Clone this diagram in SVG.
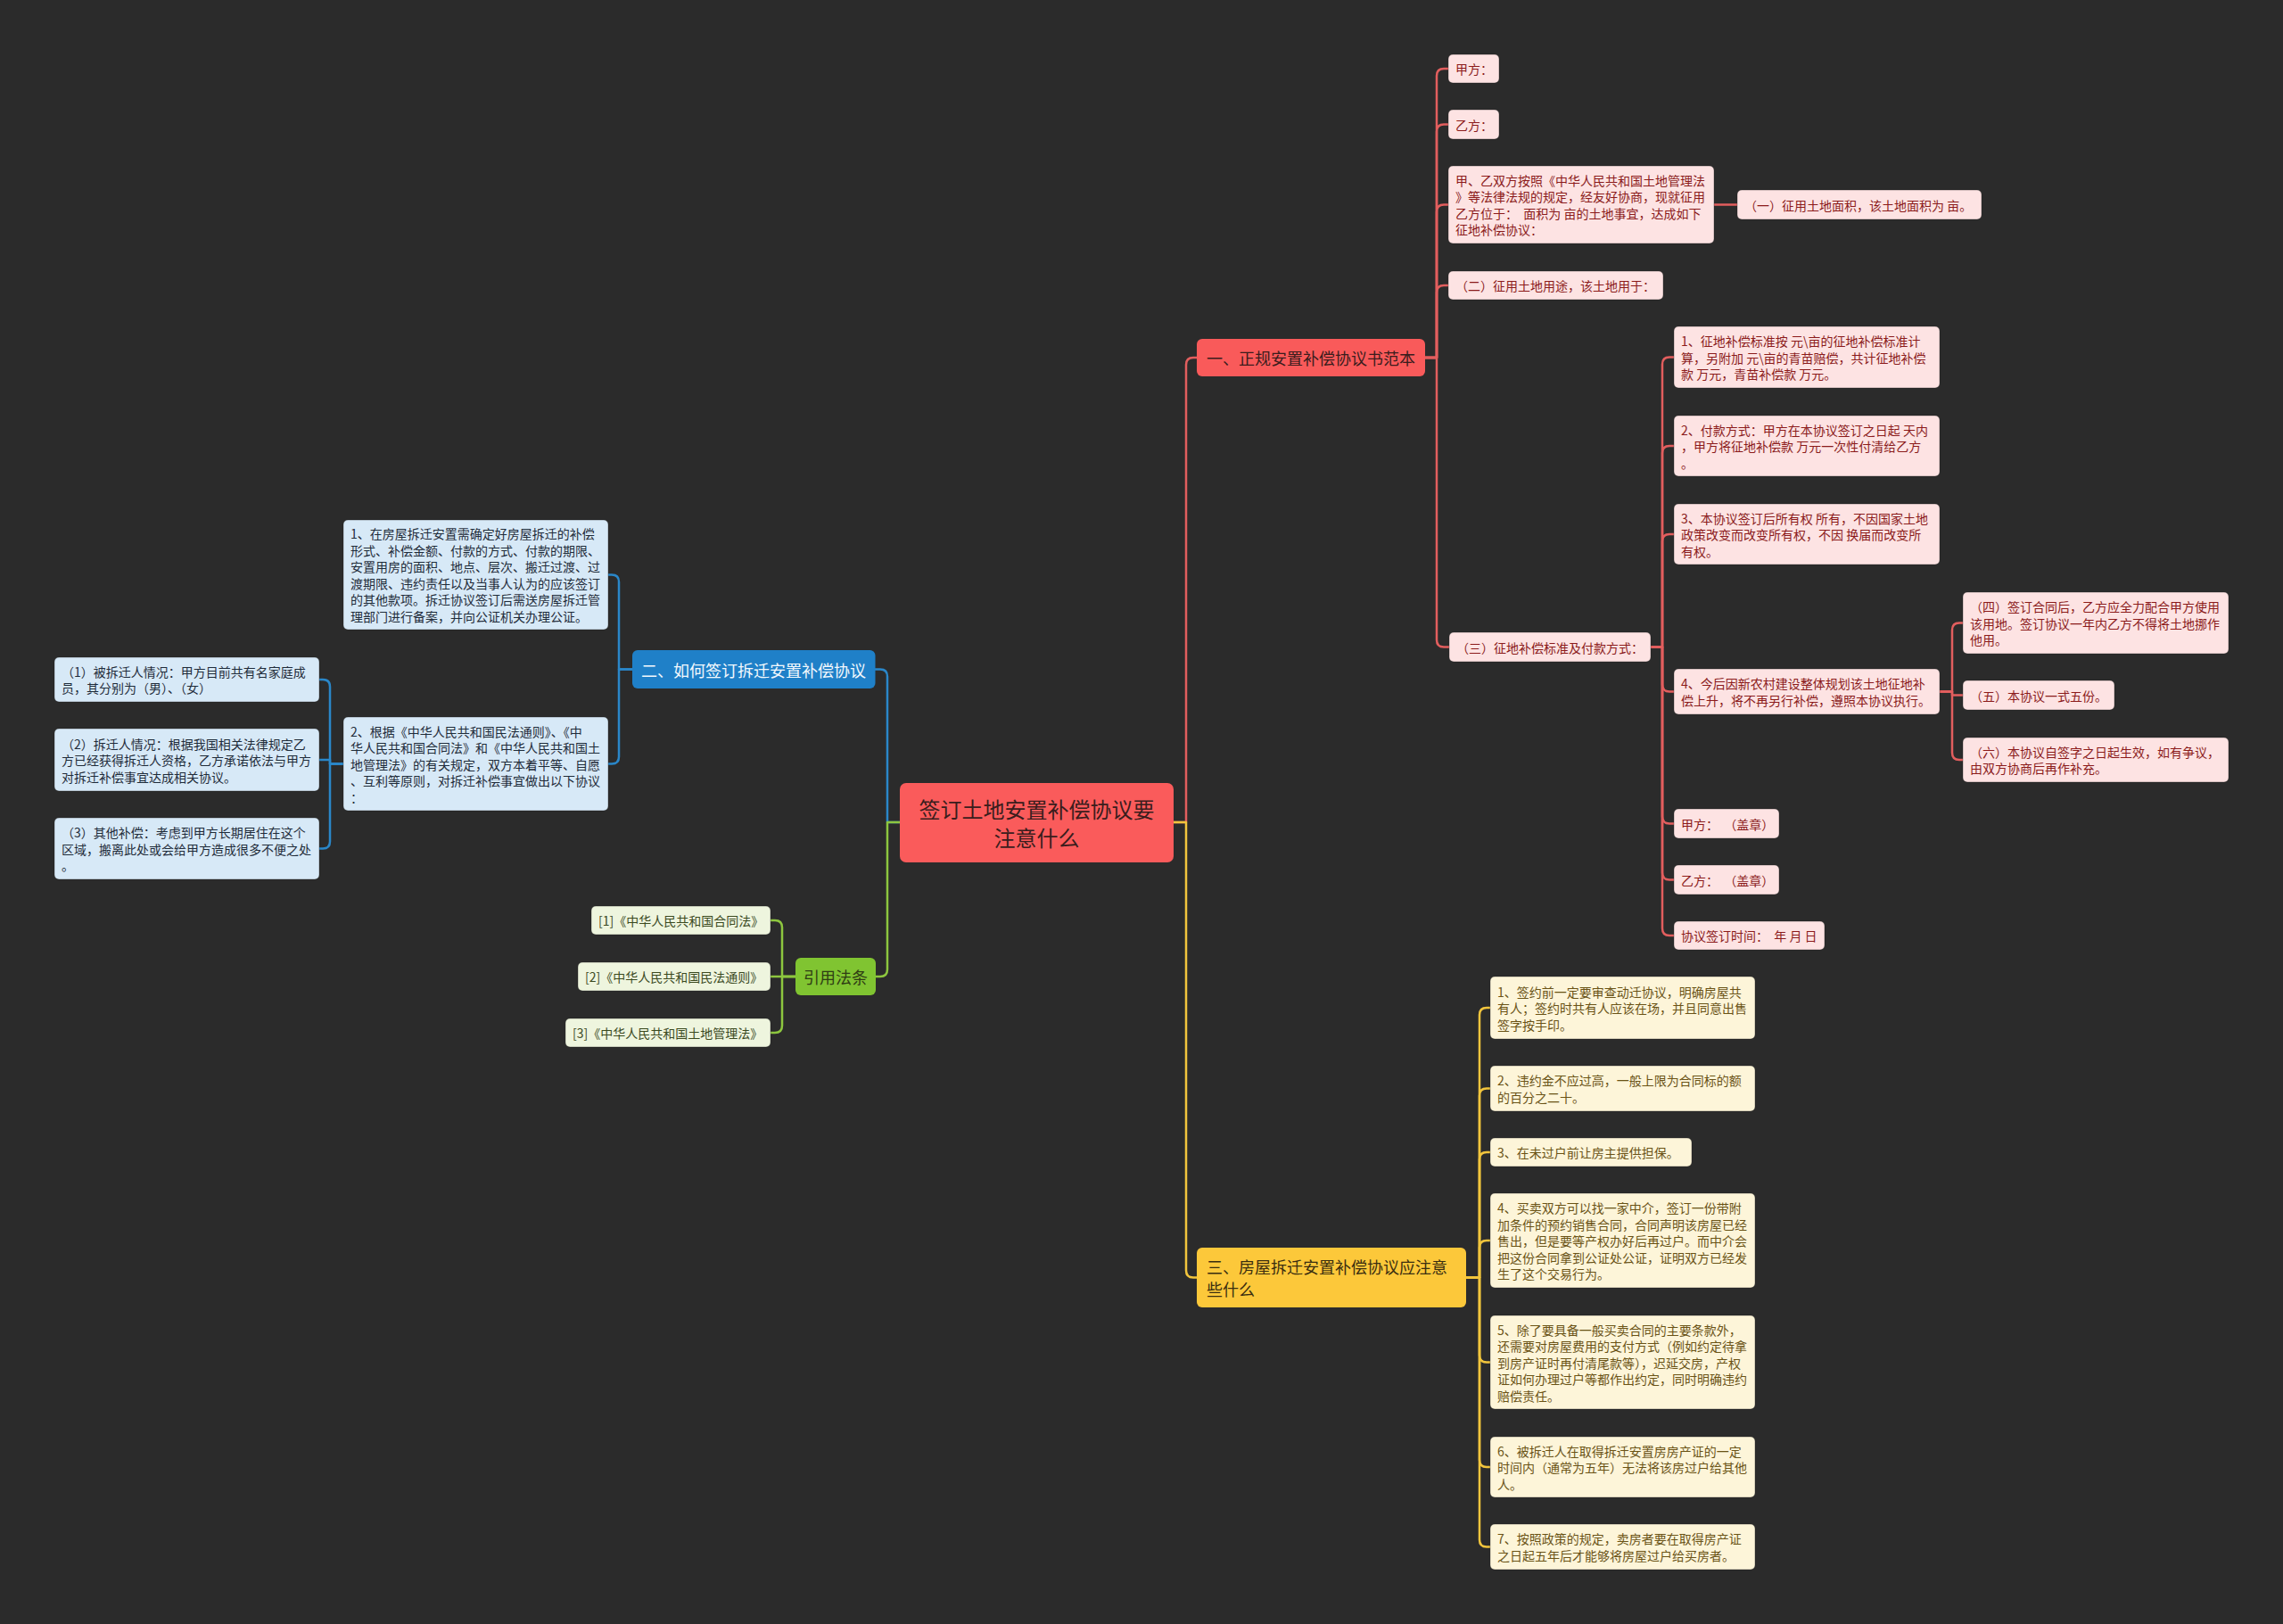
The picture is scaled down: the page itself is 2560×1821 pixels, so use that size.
<svg xmlns="http://www.w3.org/2000/svg" width="2560" height="1821" viewBox="0 0 2560 1821">
<style>
text{font-family:"Noto Sans CJK SC","Noto Sans",sans-serif;dominant-baseline:central;white-space:pre}
.c path{fill:none;stroke-width:2.5;stroke-linecap:round;stroke-linejoin:round}
.lr path{stroke:#e25e5e}
.lb path{stroke:#2a87c9}
.lg path{stroke:#8dc63f}
.ly path{stroke:#f2c53d}
.root rect{fill:#fa5b5b}
.root text{fill:#3a1d1d;font-size:24px}
.m1 rect{fill:#f95a5a}
.m1 text{fill:#3a1d1d;font-size:18px}
.m2 rect{fill:#1f80c8}
.m2 text{fill:#f2f8fd;font-size:18px}
.m3 rect{fill:#80c431}
.m3 text{fill:#2f3d14;font-size:18px}
.m4 rect{fill:#fcc83a}
.m4 text{fill:#3a2e10;font-size:18px}
.p rect{fill:#fde3e3;stroke:#1c1c1c;stroke-opacity:.35}
.p text{fill:#8b1b1b;font-size:14px}
.b rect{fill:#d7e9f7;stroke:#1c1c1c;stroke-opacity:.35}
.b text{fill:#1f2c3a;font-size:14px}
.g rect{fill:#eef5de;stroke:#1c1c1c;stroke-opacity:.35}
.g text{fill:#3b4a1f;font-size:14px}
.y rect{fill:#fdf5d9;stroke:#1c1c1c;stroke-opacity:.35}
.y text{fill:#6a5316;font-size:14px}
</style>
<rect width="2560" height="1821" fill="#2b2b2b"/>

<g id="connectors" class="c">
<g class="lr">
<path d="M1316,922 H1330 V409 Q1330,401 1338,401 H1342"/>
<path d="M1598,401 H1611 V85 Q1611,77 1619,77 H1624"/>
<path d="M1598,401 H1611 V147.5 Q1611,139.5 1619,139.5 H1624"/>
<path d="M1598,401 H1611 V237.5 Q1611,229.5 1619,229.5 H1624"/>
<path d="M1598,401 H1611 V328 Q1611,320 1619,320 H1624"/>
<path d="M1598,401 H1611 V717.5 Q1611,725.5 1619,725.5 H1625"/>
<path d="M1922,229.5 H1948"/>
<path d="M1851,725.5 H1864 V408.5 Q1864,400.5 1872,400.5 H1877"/>
<path d="M1851,725.5 H1864 V508 Q1864,500 1872,500 H1877"/>
<path d="M1851,725.5 H1864 V607 Q1864,599 1872,599 H1877"/>
<path d="M1851,725.5 H1864 V767.5 Q1864,775.5 1872,775.5 H1877"/>
<path d="M1851,725.5 H1864 V915.5 Q1864,923.5 1872,923.5 H1877"/>
<path d="M1851,725.5 H1864 V978.5 Q1864,986.5 1872,986.5 H1877"/>
<path d="M1851,725.5 H1864 V1041 Q1864,1049 1872,1049 H1877"/>
<path d="M2175,775.5 H2189 V706.5 Q2189,698.5 2197,698.5 H2201"/>
<path d="M2175,775.5 H2189 V779.5 H2201"/>
<path d="M2175,775.5 H2189 V844 Q2189,852 2197,852 H2201"/>
</g>
<g class="lb">
<path d="M1009,922 H995 V758.5 Q995,750.5 987,750.5 H981.5"/>
<path d="M709,750.5 H694 V652.5 Q694,644.5 686,644.5 H682"/>
<path d="M709,750.5 H694 V848.5 Q694,856.5 686,856.5 H682"/>
<path d="M385,856.5 H370 V770 Q370,762 362,762 H358"/>
<path d="M385,856.5 H370 V852 H358"/>
<path d="M385,856.5 H370 V943.5 Q370,951.5 362,951.5 H358"/>
</g>
<g class="lg">
<path d="M1009,922 H995 V1087 Q995,1095 987,1095 H982"/>
<path d="M892,1095 H877 V1040 Q877,1032 869,1032 H864"/>
<path d="M892,1095 H864"/>
<path d="M892,1095 H877 V1150 Q877,1158 869,1158 H864"/>
</g>
<g class="ly">
<path d="M1316,922 H1330 V1424.5 Q1330,1432.5 1338,1432.5 H1342"/>
<path d="M1644,1432.5 H1659 V1138 Q1659,1130 1667,1130 H1671"/>
<path d="M1644,1432.5 H1659 V1228.5 Q1659,1220.5 1667,1220.5 H1671"/>
<path d="M1644,1432.5 H1659 V1300 Q1659,1292 1667,1292 H1671"/>
<path d="M1644,1432.5 H1659 V1399 Q1659,1391 1667,1391 H1671"/>
<path d="M1644,1432.5 H1659 V1519.5 Q1659,1527.5 1667,1527.5 H1671"/>
<path d="M1644,1432.5 H1659 V1637 Q1659,1645 1667,1645 H1671"/>
<path d="M1644,1432.5 H1659 V1726.5 Q1659,1734.5 1667,1734.5 H1671"/>
</g>
</g>

<g id="root" class="root"><rect x="1009" y="878" width="307" height="89" rx="7"/>
<text x="1162.5" y="906" text-anchor="middle">签订土地安置补偿协议要</text>
<text x="1162.5" y="938" text-anchor="middle">注意什么</text></g>

<g id="n1" class="m1"><rect x="1342" y="380" width="256" height="42" rx="6"/>
<text x="1470" y="401" text-anchor="middle">一、正规安置补偿协议书范本</text></g>

<g id="n2" class="m2"><rect x="709" y="729" width="272.5" height="43" rx="6"/>
<text x="845" y="750.5" text-anchor="middle">二、如何签订拆迁安置补偿协议</text></g>

<g id="n3" class="m4"><rect x="1342" y="1399" width="302" height="67" rx="6"/>
<text x="1353" y="1420">三、房屋拆迁安置补偿协议应注意</text>
<text x="1353" y="1445">些什么</text></g>

<g id="n4" class="m3"><rect x="892" y="1074" width="90" height="42" rx="6"/>
<text x="937" y="1095" text-anchor="middle">引用法条</text></g>

<g id="p-jia" class="p"><rect x="1624" y="61" width="57" height="32" rx="5"/>
<text x="1632" y="77">甲方：</text></g>
<g id="p-yi" class="p"><rect x="1624" y="123" width="57" height="33" rx="5"/>
<text x="1632" y="139.5">乙方：</text></g>
<g id="p-intro" class="p"><rect x="1624" y="186" width="298" height="87" rx="5"/>
<text x="1632" y="201.75">甲、乙双方按照《中华人民共和国土地管理法</text>
<text x="1632" y="220.25">》等法律法规的规定，经友好协商，现就征用</text>
<text x="1632" y="238.75">乙方位于：  面积为 亩的土地事宜，达成如下</text>
<text x="1632" y="257.25">征地补偿协议：</text></g>
<g id="p-1" class="p"><rect x="1948" y="213" width="274" height="33" rx="5"/>
<text x="1956" y="229.5">（一）征用土地面积，该土地面积为 亩。</text></g>
<g id="p-2" class="p"><rect x="1624" y="304" width="241" height="32" rx="5"/>
<text x="1632" y="320">（二）征用土地用途，该土地用于：</text></g>
<g id="p-3" class="p"><rect x="1625" y="709" width="226" height="33" rx="5"/>
<text x="1633" y="725.5">（三）征地补偿标准及付款方式：</text></g>
<g id="p-3-1" class="p"><rect x="1877" y="366" width="298" height="69" rx="5"/>
<text x="1885" y="382">1、征地补偿标准按 元\亩的征地补偿标准计</text>
<text x="1885" y="400.5">算，另附加 元\亩的青苗赔偿，共计征地补偿</text>
<text x="1885" y="419">款 万元，青苗补偿款 万元。</text></g>
<g id="p-3-2" class="p"><rect x="1877" y="466" width="298" height="68" rx="5"/>
<text x="1885" y="481.5">2、付款方式：甲方在本协议签订之日起 天内</text>
<text x="1885" y="500">，甲方将征地补偿款 万元一次性付清给乙方</text>
<text x="1885" y="518.5">。</text></g>
<g id="p-3-3" class="p"><rect x="1877" y="565" width="298" height="68" rx="5"/>
<text x="1885" y="580.5">3、本协议签订后所有权 所有，不因国家土地</text>
<text x="1885" y="599">政策改变而改变所有权，不因 换届而改变所</text>
<text x="1885" y="617.5">有权。</text></g>
<g id="p-3-4" class="p"><rect x="1877" y="750" width="298" height="51" rx="5"/>
<text x="1885" y="766.25">4、今后因新农村建设整体规划该土地征地补</text>
<text x="1885" y="784.75">偿上升，将不再另行补偿，遵照本协议执行。</text></g>
<g id="p-4" class="p"><rect x="2201" y="664" width="298" height="69" rx="5"/>
<text x="2209" y="680">（四）签订合同后，乙方应全力配合甲方使用</text>
<text x="2209" y="698.5">该用地。签订协议一年内乙方不得将土地挪作</text>
<text x="2209" y="717">他用。</text></g>
<g id="p-5" class="p"><rect x="2201" y="763" width="170" height="33" rx="5"/>
<text x="2209" y="779.5">（五）本协议一式五份。</text></g>
<g id="p-6" class="p"><rect x="2201" y="827" width="298" height="50" rx="5"/>
<text x="2209" y="842.75">（六）本协议自签字之日起生效，如有争议，</text>
<text x="2209" y="861.25">由双方协商后再作补充。</text></g>
<g id="p-sign-jia" class="p"><rect x="1877" y="907" width="118" height="33" rx="5"/>
<text x="1885" y="923.5">甲方：  （盖章）</text></g>
<g id="p-sign-yi" class="p"><rect x="1877" y="970" width="118" height="33" rx="5"/>
<text x="1885" y="986.5">乙方：  （盖章）</text></g>
<g id="p-date" class="p"><rect x="1877" y="1033" width="169" height="32" rx="5"/>
<text x="1885" y="1049">协议签订时间：  年 月 日</text></g>

<g id="b-1" class="b"><rect x="385" y="583" width="297" height="123" rx="5"/>
<text x="393" y="598.25">1、在房屋拆迁安置需确定好房屋拆迁的补偿</text>
<text x="393" y="616.75">形式、补偿金额、付款的方式、付款的期限、</text>
<text x="393" y="635.25">安置用房的面积、地点、层次、搬迁过渡、过</text>
<text x="393" y="653.75">渡期限、违约责任以及当事人认为的应该签订</text>
<text x="393" y="672.25">的其他款项。拆迁协议签订后需送房屋拆迁管</text>
<text x="393" y="690.75">理部门进行备案，并向公证机关办理公证。</text></g>
<g id="b-2" class="b"><rect x="385" y="804" width="297" height="105" rx="5"/>
<text x="393" y="819.5">2、根据《中华人民共和国民法通则》、《中</text>
<text x="393" y="838">华人民共和国合同法》和《中华人民共和国土</text>
<text x="393" y="856.5">地管理法》的有关规定，双方本着平等、自愿</text>
<text x="393" y="875">、互利等原则，对拆迁补偿事宜做出以下协议</text>
<text x="393" y="893.5">：</text></g>
<g id="b-2-1" class="b"><rect x="61" y="737" width="297" height="50" rx="5"/>
<text x="69" y="752.75">（1）被拆迁人情况：甲方目前共有名家庭成</text>
<text x="69" y="771.25">员，其分别为（男）、（女）</text></g>
<g id="b-2-2" class="b"><rect x="61" y="817" width="297" height="70" rx="5"/>
<text x="69" y="833.5">（2）拆迁人情况：根据我国相关法律规定乙</text>
<text x="69" y="852">方已经获得拆迁人资格，乙方承诺依法与甲方</text>
<text x="69" y="870.5">对拆迁补偿事宜达成相关协议。</text></g>
<g id="b-2-3" class="b"><rect x="61" y="917" width="297" height="69" rx="5"/>
<text x="69" y="933">（3）其他补偿：考虑到甲方长期居住在这个</text>
<text x="69" y="951.5">区域，搬离此处或会给甲方造成很多不便之处</text>
<text x="69" y="970">。</text></g>

<g id="g-1" class="g"><rect x="663" y="1016" width="201" height="32" rx="5"/>
<text x="671" y="1032">[1]《中华人民共和国合同法》</text></g>
<g id="g-2" class="g"><rect x="648" y="1079" width="216" height="32" rx="5"/>
<text x="656" y="1095">[2]《中华人民共和国民法通则》</text></g>
<g id="g-3" class="g"><rect x="634" y="1142" width="230" height="32" rx="5"/>
<text x="642" y="1158">[3]《中华人民共和国土地管理法》</text></g>

<g id="y-1" class="y"><rect x="1671" y="1095" width="297" height="70" rx="5"/>
<text x="1679" y="1111.5">1、签约前一定要审查动迁协议，明确房屋共</text>
<text x="1679" y="1130">有人；签约时共有人应该在场，并且同意出售</text>
<text x="1679" y="1148.5">签字按手印。</text></g>
<g id="y-2" class="y"><rect x="1671" y="1195" width="297" height="51" rx="5"/>
<text x="1679" y="1211.25">2、违约金不应过高，一般上限为合同标的额</text>
<text x="1679" y="1229.75">的百分之二十。</text></g>
<g id="y-3" class="y"><rect x="1671" y="1276" width="226" height="32" rx="5"/>
<text x="1679" y="1292">3、在未过户前让房主提供担保。</text></g>
<g id="y-4" class="y"><rect x="1671" y="1338" width="297" height="106" rx="5"/>
<text x="1679" y="1354">4、买卖双方可以找一家中介，签订一份带附</text>
<text x="1679" y="1372.5">加条件的预约销售合同，合同声明该房屋已经</text>
<text x="1679" y="1391">售出，但是要等产权办好后再过户。而中介会</text>
<text x="1679" y="1409.5">把这份合同拿到公证处公证，证明双方已经发</text>
<text x="1679" y="1428">生了这个交易行为。</text></g>
<g id="y-5" class="y"><rect x="1671" y="1475" width="297" height="105" rx="5"/>
<text x="1679" y="1490.5">5、除了要具备一般买卖合同的主要条款外，</text>
<text x="1679" y="1509">还需要对房屋费用的支付方式（例如约定待拿</text>
<text x="1679" y="1527.5">到房产证时再付清尾款等），迟延交房，产权</text>
<text x="1679" y="1546">证如何办理过户等都作出约定，同时明确违约</text>
<text x="1679" y="1564.5">赔偿责任。</text></g>
<g id="y-6" class="y"><rect x="1671" y="1611" width="297" height="68" rx="5"/>
<text x="1679" y="1626.5">6、被拆迁人在取得拆迁安置房房产证的一定</text>
<text x="1679" y="1645">时间内（通常为五年）无法将该房过户给其他</text>
<text x="1679" y="1663.5">人。</text></g>
<g id="y-7" class="y"><rect x="1671" y="1709" width="297" height="51" rx="5"/>
<text x="1679" y="1725.25">7、按照政策的规定，卖房者要在取得房产证</text>
<text x="1679" y="1743.75">之日起五年后才能够将房屋过户给买房者。</text></g>
</svg>
